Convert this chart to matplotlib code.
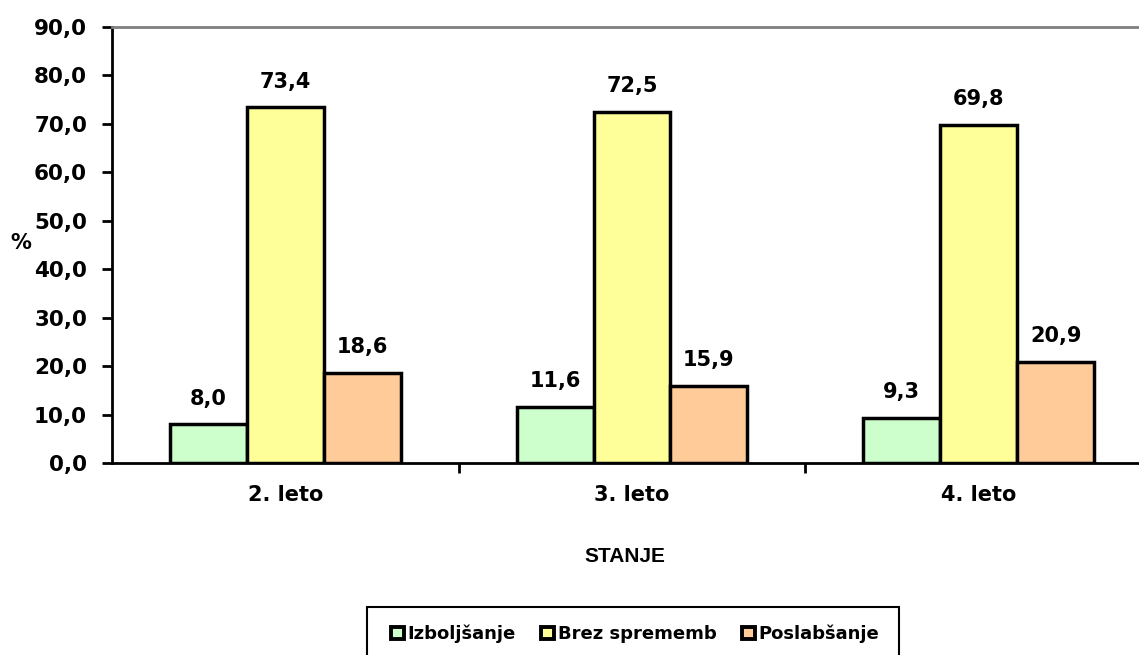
import matplotlib
matplotlib.use("Agg")
import matplotlib.pyplot as plt
import numpy as np
from matplotlib.patches import Patch, Rectangle

categories = ["2. leto", "3. leto", "4. leto"]
series_names = ["Izboljšanje", "Brez sprememb", "Poslabšanje"]
izboljsanje = [8.0, 11.6, 9.3]
brez = [73.4, 72.5, 69.8]
poslabsanje = [18.6, 15.9, 20.9]
colors = ["#CCFFCC", "#FFFF99", "#FFCC99"]

W, H = 1139, 655
fig = plt.figure(figsize=(W / 100, H / 100), dpi=100)
left, right, top, bottom = 112, 1152, 27, 463
ax = fig.add_axes([left / W, 1 - bottom / H, (right - left) / W, (bottom - top) / H])

x = np.arange(len(categories))
bw = 0.222
font = "DejaVu Sans"
for i, (vals, col) in enumerate(zip([izboljsanje, brez, poslabsanje], colors)):
    pos = x + (i - 1) * bw
    ax.bar(pos, vals, width=bw, color=col, edgecolor="black", linewidth=2.5, zorder=3)
    for p, v in zip(pos, vals):
        ax.text(p, v + 3.2, f"{v:.1f}".replace(".", ","), ha="center", va="bottom",
                fontsize=15, fontweight="bold", family=font)

ax.set_xlim(-0.5, 2.5)
ax.set_ylim(0, 90)
ax.set_yticks(np.arange(0, 91, 10))
ax.set_yticklabels([f"{v:.1f}".replace(".", ",") for v in np.arange(0, 91, 10)],
                   fontsize=15.5, fontweight="bold", family=font)
ax.set_xticks([0.5, 1.5, 2.5])
ax.set_xticklabels([])
ax.set_xticks(x, minor=True)
ax.set_xticklabels(categories, minor=True, fontsize=15, fontweight="bold", family=font)
ax.tick_params(axis="x", which="minor", length=0, pad=16)
ax.tick_params(axis="x", which="major", length=7, width=2, direction="out")
ax.tick_params(axis="y", length=7, width=2, direction="out", pad=11)

for s in ["left", "bottom"]:
    ax.spines[s].set_linewidth(2)
    ax.spines[s].set_color("black")
for s in ["top", "right"]:
    ax.spines[s].set_linewidth(2)
    ax.spines[s].set_color("#808080")

fig.text(21 / W, 1 - 243 / H, "%", ha="center", va="center", fontsize=15,
         fontweight="bold", family=font)
fig.text(625 / W, 1 - 557 / H, "STANJE", ha="center", va="center", fontsize=15,
         fontweight="bold", family="Liberation Sans")

# legend frame
fig.patches.append(Rectangle((367 / W, 1 - 665 / H), (899 - 367) / W, (665 - 607) / H,
                             transform=fig.transFigure, facecolor="white",
                             edgecolor="black", linewidth=1.5, zorder=1))
handles = [Patch(facecolor=c, edgecolor="black", linewidth=2.8) for c in colors]
leg = fig.legend(handles, series_names, loc="center", bbox_to_anchor=(635 / W, 1 - 634 / H),
                 ncol=3, frameon=False,
                 prop={"family": font, "weight": "bold", "size": 13},
                 handlelength=0.72, handleheight=0.72, handletextpad=0.2, columnspacing=1.4,
                 borderpad=0.0)
leg.set_zorder(5)

fig.savefig("out.png", dpi=100)
